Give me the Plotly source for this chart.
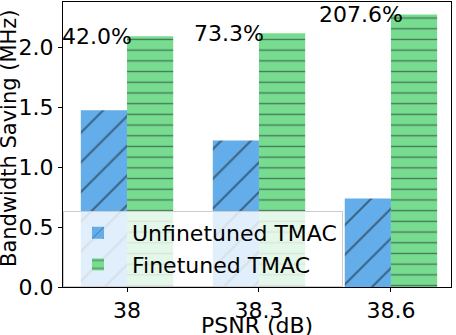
import plotly.graph_objects as go

# data
psnr_labels = ["38", "38.3", "38.6"]
unfinetuned = [1.472, 1.220, 0.738]
finetuned = [2.090, 2.114, 2.270]
saving_labels = ["42.0%", "73.3%", "207.6%"]

FONT = "DejaVu Sans"
FS = 22
BLUE = "#63AEEA"
GREEN = "#78DC90"
HATCH = "#111820"

x_pos = list(range(len(psnr_labels)))

fig = go.Figure()
fig.add_trace(go.Bar(
    x=x_pos, y=unfinetuned, name="Unfinetuned TMAC",
    width=0.35, offset=-0.35,
    marker=dict(color=BLUE, line=dict(width=0),
                pattern=dict(shape="/", size=21, solidity=0.1, fgcolor=HATCH)),
))
fig.add_trace(go.Bar(
    x=x_pos, y=finetuned, name="Finetuned TMAC",
    width=0.35, offset=0,
    marker=dict(color=GREEN, line=dict(width=0),
                pattern=dict(shape="-", size=10.7, solidity=0.13, fgcolor=HATCH)),
))

annotations = []
for i, (lab, g) in enumerate(zip(saving_labels, finetuned)):
    annotations.append(dict(
        x=i - 0.225, y=g, xref="x", yref="y", text=lab, showarrow=False,
        xanchor="center", yanchor="middle", font=dict(size=FS, color="black"),
    ))
annotations.append(dict(
    x=0.5, y=-0.085, xref="paper", yref="paper", text="PSNR (dB)",
    showarrow=False, xanchor="center", yanchor="top",
    font=dict(size=FS, color="black"),
))
annotations.append(dict(
    x=-0.139, y=0.523, xref="paper", yref="paper", text="Bandwidth Saving (MHz)",
    showarrow=False, textangle=-90, xanchor="center", yanchor="middle",
    font=dict(size=21, color="black"),
))

fig.update_layout(
    width=456, height=335,
    margin=dict(l=63, r=5, t=2, b=48),
    font=dict(family=FONT, size=FS, color="black"),
    plot_bgcolor="white", paper_bgcolor="white",
    barmode="overlay",
    showlegend=True,
    legend=dict(
        x=0, y=0, xanchor="left", yanchor="bottom",
        bgcolor="rgba(255,255,255,0.8)", bordercolor="#cccccc", borderwidth=1,
        font=dict(size=FS), itemwidth=58,
    ),
    annotations=annotations,
    xaxis=dict(
        range=[-0.485, 2.455], tickvals=x_pos, ticktext=psnr_labels,
        showgrid=False, zeroline=False, showline=True, mirror=True,
        linecolor="black", linewidth=1, ticks="outside", ticklen=4,
        tickcolor="black", tickfont=dict(size=FS), automargin=False,
    ),
    yaxis=dict(
        range=[0, 2.375], dtick=0.5, tickformat=".1f",
        showgrid=False, zeroline=False, showline=True, mirror=True,
        linecolor="black", linewidth=1, ticks="outside", ticklen=4,
        tickcolor="black", tickfont=dict(size=FS), automargin=False,
    ),
)

# page body has a default 8px margin; drop it so the figure sits at 0,0
fig.write_html("out.html", config={"displayModeBar": False},
               post_script="document.body.style.margin='0';")
